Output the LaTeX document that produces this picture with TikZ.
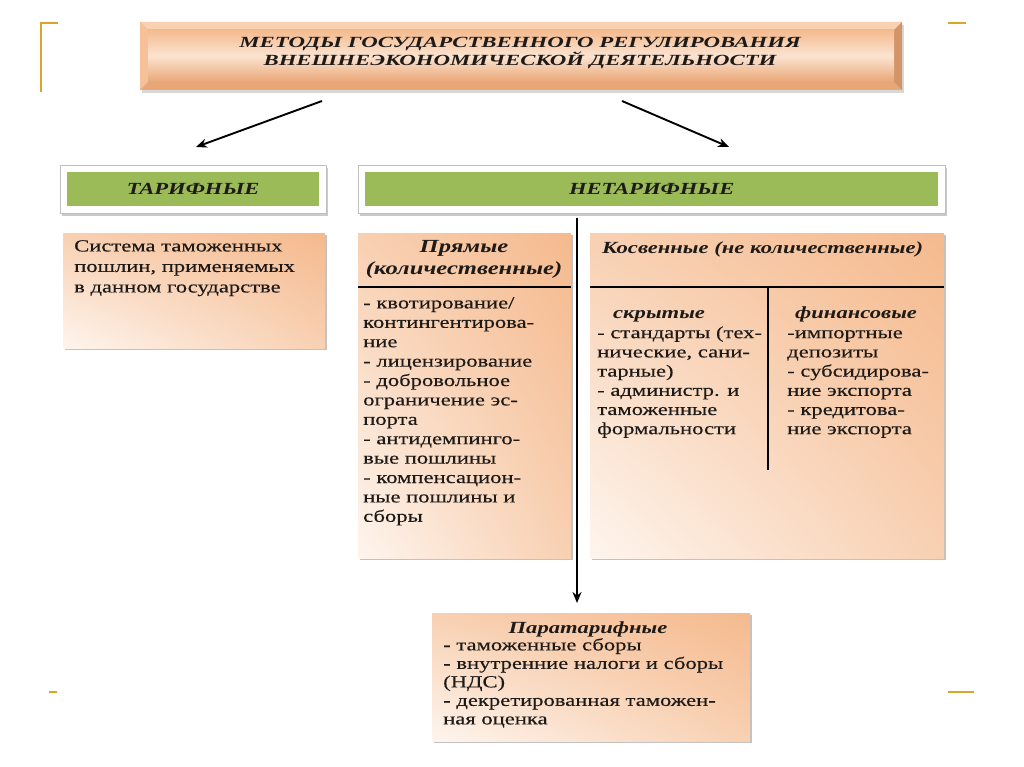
\documentclass[tikz,border=0pt]{standalone}
\usepackage{fontspec}
\setmainfont{Liberation Serif}[FakeStretch=1.33, UprightFeatures={FakeBold=0.3}]
\newfontfamily\titlefont{Liberation Serif}[FakeStretch=1.47]
\usetikzlibrary{shadows,shadings,arrows.meta,calc}
\definecolor{gold}{HTML}{D9A52A}
\definecolor{peach}{HTML}{F5BA8E}
\definecolor{peachmid}{HTML}{F8D0B2}
\definecolor{peachlt}{HTML}{FEF5EE}
\definecolor{peachdk}{HTML}{E9A676}
\definecolor{grn}{HTML}{9BBB59}
\definecolor{ink}{HTML}{1E1A18}
\tikzset{
  x=1pt, y=-1pt,
  deco/.style={draw=gold, line width=2.2pt},
  orbox/.style={draw=none, anchor=north west, inner sep=0pt,
     upper left=peachmid, upper right=peach, lower left=peachlt, lower right=peachmid,
     drop shadow={shadow xshift=2pt, shadow yshift=-2pt, fill=black!40, opacity=.6}},
  frame/.style={draw=black!25, fill=white, line width=0.6pt, anchor=north west, inner sep=0pt,
     drop shadow={shadow xshift=2pt, shadow yshift=-3pt, fill=black!35, opacity=.6}},
  greenbar/.style={fill=grn, draw=none, anchor=north west, inner sep=0pt},
  body/.style={text=ink, font=\fontsize{17}{19.4}\selectfont, align=left, anchor=north west, inner sep=0pt},
  hdr/.style={text=ink, font=\fontsize{17}{21}\selectfont\bfseries\itshape, inner sep=0pt},
  arr/.style={-{Stealth[length=11pt,width=9pt]}, line width=1.9pt},
}
\begin{document}
\begin{tikzpicture}
\useasboundingbox (0,0) rectangle (1024,767);
% gold corner marks
\draw[deco] (41,92) -- (41,23) -- (58,23);
\draw[deco] (948,23) -- (966,23);
\draw[deco] (49,692) -- (57,692);
\draw[deco] (948,692) -- (974,692);

% title box (bevelled)
\node[anchor=north west, minimum width=762pt, minimum height=68pt, inner sep=0pt, fill=peachdk,
      drop shadow={shadow xshift=2pt, shadow yshift=-3pt, fill=black!30, opacity=.5}] (title) at (140,22) {};
\fill[peachmid] (140,22) -- (902,22) -- (894,30) -- (148,30) -- cycle;
\fill[peach!90!white] (140,22) -- (148,30) -- (148,82) -- (140,90) -- cycle;
\fill[peachdk!90!black] (902,22) -- (902,90) -- (894,82) -- (894,30) -- cycle;
\shade[top color=peach, bottom color=peachdk, middle color=peachlt!70!peach] (148,30) rectangle (894,82);
\node[text=ink, font=\titlefont\fontsize{15.5}{18}\selectfont\bfseries\itshape, align=center, inner sep=0pt]
   (titletext) at (520,53) {МЕТОДЫ ГОСУДАРСТВЕННОГО РЕГУЛИРОВАНИЯ\\ВНЕШНЕЭКОНОМИЧЕСКОЙ ДЕЯТЕЛЬНОСТИ};

% green headers
\node[frame, minimum width=266pt, minimum height=48pt] (tarf) at (60,165) {};
\node[greenbar, minimum width=252pt, minimum height=34pt] (tar) at (67,172) {};
\node[hdr] (tartext) at (tar.center) {ТАРИФНЫЕ};
\node[frame, minimum width=587pt, minimum height=48pt] (netf) at (358,165) {};
\node[greenbar, minimum width=573pt, minimum height=34pt] (net) at (365,172) {};
\node[hdr] (nettext) at (net.center) {НЕТАРИФНЫЕ};

% arrows from title
\coordinate (a1) at (322,101);
\coordinate (a2) at (622,101);
\coordinate (a1e) at (196,147);
\coordinate (a2e) at (729,147);
\draw[arr] (a1) -- (a1e);
\draw[arr] (a2) -- (a2e);

% tariff description box
\node[orbox, minimum width=262pt, minimum height=115pt] (sys) at (63,233) {};
\node[body, font=\fontsize{17}{20.5}\selectfont] (systext) at (74,240) {Система таможенных\\пошлин, применяемых\\в данном государстве};

% direct box
\node[orbox, minimum width=213pt, minimum height=325pt] (pr) at (358,233) {};
\node[hdr, font=\fontsize{18.5}{22}\selectfont\bfseries\itshape, align=center, anchor=north] (prh) at (464,240) {Прямые\\(количественные)};
\draw[line width=1.2pt] (pr.west |- 0,287) -- (pr.east |- 0,287);
\node[body] (prtext) at (363,297) {- квотирование/\\контингентирова-\\ние\\- лицензирование\\- добровольное\\ограничение эс-\\порта\\- антидемпинго-\\вые пошлины\\- компенсацион-\\ные пошлины и\\сборы};

% indirect box
\node[orbox, minimum width=354pt, minimum height=325pt] (ko) at (590,233) {};
\node[hdr, anchor=north west] (koh) at (602,242) {Косвенные (не количественные)};
\draw[line width=1.2pt] (ko.west |- 0,287) -- (ko.east |- 0,287);
\coordinate (dvt) at (768,287);
\coordinate (dvb) at (768,470);
\draw[line width=1.2pt] (dvt) -- (dvb);
\node[body, font=\fontsize{17}{19.2}\selectfont] (hid) at (597,307) {\vphantom{ф}\hspace*{16pt}\textbf{\textit{скрытые}}\\- стандарты (тех-\\нические, сани-\\тарные)\\- администр. и\\таможенные\\формальности};
\node[body, font=\fontsize{17}{19.2}\selectfont] (fin) at (787,307) {\hspace*{8pt}\textbf{\textit{финансовые}}\\-импортные\\депозиты\\- субсидирова-\\ние экспорта\\- кредитова-\\ние экспорта};

% paratariff box
\node[orbox, minimum width=318pt, minimum height=128pt] (pa) at (432,613) {};
\node[hdr] (pah) at (588,629) {Паратарифные};
\node[body, font=\fontsize{17}{18.5}\selectfont] (patext) at (443,638) {- таможенные сборы\\- внутренние налоги и сборы\\(НДС)\\- декретированная таможен-\\ная оценка};

% vertical connector
\coordinate (vt) at (577,218);
\coordinate (vb) at (577,603);
\draw[arr, line width=2.2pt] (vt) -- (vb);
\end{tikzpicture}
\end{document}
